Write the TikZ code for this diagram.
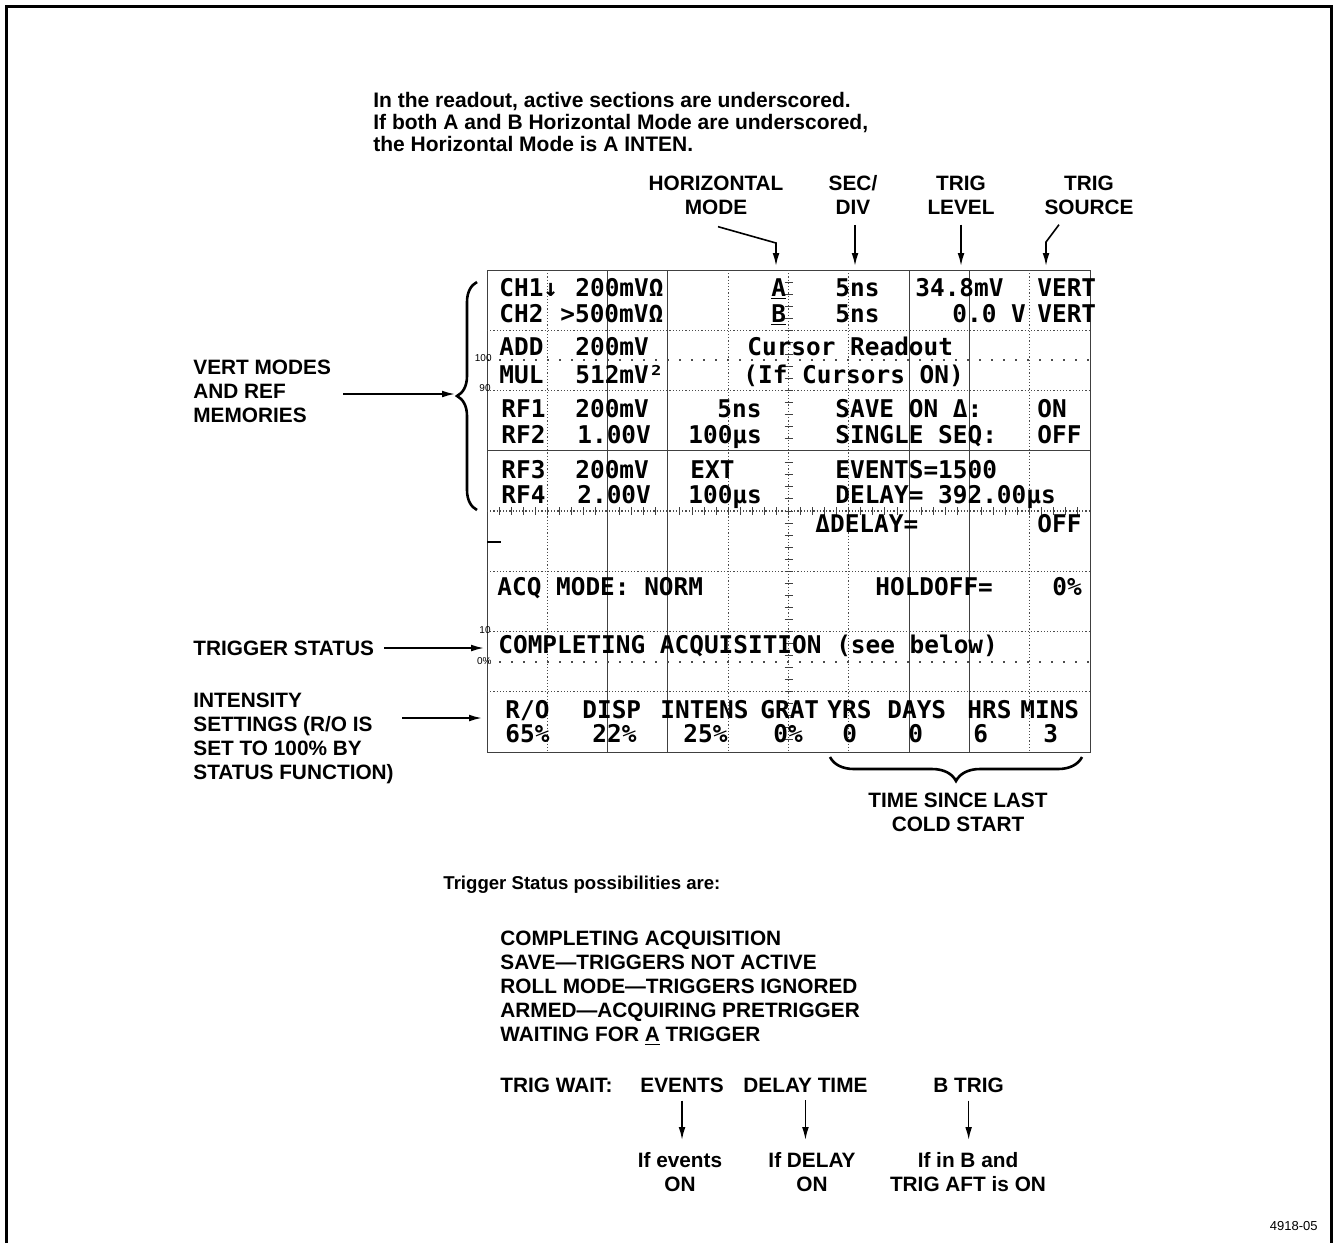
\documentclass[tikz,border=0pt]{standalone}
\usepackage{fontspec}
\setmainfont{Liberation Sans}
\newfontfamily\crtfont{DejaVu Sans Mono}
\usetikzlibrary{arrows.meta,positioning,calc,decorations.pathreplacing}
\tikzset{
  lbl/.style    = {font=\bfseries\fontsize{10.4}{11.9}\selectfont, inner sep=0pt},
  crt/.style    = {font={\crtfont\bfseries\fontsize{12.2}{14}\selectfont}, anchor=base west, inner sep=0pt},
  pct/.style    = {font=\fontsize{5}{6}\selectfont, inner sep=0pt, anchor=east},
  sig/.style    = {-{Latex[length=6.5pt,width=3.4pt]}, line width=0.8pt},
  brc/.style    = {decorate, decoration={brace, amplitude=#1}, line width=1.3pt},
  frame/.style  = {line width=1.5pt},
  gline/.style  = {draw=black!75, line width=0.5pt},
  gdot/.style   = {draw=black!70, line width=0.6pt, densely dotted},
  pctrow/.style = {draw=black!70, line width=0.8pt, dash pattern=on 0.8pt off 5.2pt},
}

\begin{document}
\begin{tikzpicture}[x=0.5pt, y=-0.5pt]
  \useasboundingbox (0,0) rectangle (1336,1243);
  \draw[frame] (6,1243) -- (6,6) -- (1331,6) -- (1331,1243);

  % graticule: 10 x 8 divisions
  \draw[gline] (487,270) rectangle (1090,752);
  \foreach \k in {2,3,7,8} \draw[gline] ({487+60.3*\k},270) -- ++(0,482);
  \foreach \k in {1,4,6,9} \draw[gdot] ({487+60.3*\k},270) -- ++(0,482);
  \foreach \k in {1,2,5,6,7} \draw[gdot] (487,{270+60.25*\k}) -- ++(603,0);
  \draw[gline] (487,450.75) -- ++(603,0);
  \draw[gdot] (788.5,270) -- ++(0,482);
  \draw[gdot] (487,511) -- ++(603,0);
  \foreach \i in {1,...,49} \draw[gline] ({487+12.06*\i},507) -- ++(0,8);
  \foreach \i in {1,...,39} \draw[gline] (784.5,{270+12.05*\i}) -- ++(8,0);
  \draw[pctrow] (487,360) -- ++(603,0);
  \draw[pctrow] (487,662) -- ++(603,0);
  \node[pct] (p100) at (492,358) {100};
  \node[pct] (p90)  at (491,388) {90};
  \node[pct] (p10)  at (491,630) {10};
  \node[pct] (p0)   at (492,661) {0\%};
  \draw[line width=0.8pt] (487,542) -- ++(14,0);

  % readout, two text lines to a division
  \node[crt] (ch1)  at (499,296) {CH1↓};
  \node[crt] (ch1v) at (575,296) {200mVΩ};
  \node[crt] (hma)  at (771,296) {\underline{A}};
  \node[crt] (sda)  at (835,296) {5ns};
  \node[crt] (tla)  at (915,296) {34.8mV};
  \node[crt] (tsa)  at (1037,296) {VERT};
  \node[crt] (ch2)  at (499,322) {CH2};
  \node[crt] (ch2v) at (560,322) {>500mVΩ};
  \node[crt] (hmb)  at (771,322) {\underline{B}};
  \node[crt] (sdb)  at (835,322) {5ns};
  \node[crt] (tlb)  at (952,322) {0.0 V};
  \node[crt] (tsb)  at (1037,322) {VERT};
  \node[crt] (add)  at (499,355) {ADD};
  \node[crt] (addv) at (575,355) {200mV};
  \node[crt] (cur)  at (747,355) {Cursor Readout};
  \node[crt] (mul)  at (499,383) {MUL};
  \node[crt] (mulv) at (575,383) {512mV²};
  \node[crt] (curon) at (743,383) {(If Cursors ON)};
  \node[crt] (rf1)  at (501,417) {RF1};
  \node[crt] (rf1v) at (575,417) {200mV};
  \node[crt] (rf1t) at (717,417) {5ns};
  \node[crt] (sav)  at (835,417) {SAVE ON Δ:};
  \node[crt] (savv) at (1037,417) {ON};
  \node[crt] (rf2)  at (501,443) {RF2};
  \node[crt] (rf2v) at (577,443) {1.00V};
  \node[crt] (rf2t) at (688,443) {100µs};
  \node[crt] (sgl)  at (835,443) {SINGLE SEQ:};
  \node[crt] (sglv) at (1037,443) {OFF};
  \node[crt] (rf3)  at (501,478) {RF3};
  \node[crt] (rf3v) at (575,478) {200mV};
  \node[crt] (rf3t) at (690,478) {EXT};
  \node[crt] (evt)  at (835,478) {EVENTS=1500};
  \node[crt] (rf4)  at (501,503) {RF4};
  \node[crt] (rf4v) at (577,503) {2.00V};
  \node[crt] (rf4t) at (688,503) {100µs};
  \node[crt] (dly)  at (835,503) {DELAY= 392.00µs};
  \node[crt] (ddly) at (815,532) {ΔDELAY=};
  \node[crt] (ddlyv) at (1037,532) {OFF};
  \node[crt] (acq)  at (497,595) {ACQ MODE: NORM};
  \node[crt] (hold) at (875,595) {HOLDOFF=};
  \node[crt] (holdv) at (1052,595) {0\%};
  \node[crt] (stat) at (498,653) {COMPLETING ACQUISITION (see below)};
  \node[crt] (ro)   at (505,718) {R/O};
  \node[crt] (disp) at (582,718) {DISP};
  \node[crt] (ints) at (660,718) {INTENS};
  \node[crt] (grat) at (760,718) {GRAT};
  \node[crt] (yrs)  at (827,718) {YRS};
  \node[crt] (days) at (887,718) {DAYS};
  \node[crt] (hrs)  at (967,718) {HRS};
  \node[crt] (mins) at (1020,718) {MINS};
  \node[crt] (rov)  at (505,742) {65\%};
  \node[crt] (dispv) at (592,742) {22\%};
  \node[crt] (intsv) at (683,742) {25\%};
  \node[crt] (gratv) at (773,742) {0\%};
  \node[crt] (yrsv) at (842,742) {0};
  \node[crt] (daysv) at (908,742) {0};
  \node[crt] (hrsv) at (973,742) {6};
  \node[crt] (minsv) at (1043,742) {3};

  % notes above the screen
  \node[lbl, anchor=north west, align=left, font=\bfseries\fontsize{10.5}{11}\selectfont] (note) at (373,92)
    {In the readout, active sections are underscored.\\
     If both A and B Horizontal Mode are underscored,\\
     the Horizontal Mode is A INTEN.};
  \node[lbl, align=center] (hmode)  at (716,195) {HORIZONTAL\\MODE};
  \node[lbl, align=center] (secdiv) at (853,195) {SEC/\\DIV};
  \node[lbl, align=center] (tlev)   at (961,195) {TRIG\\LEVEL};
  \node[lbl, align=center] (tsrc)   at (1089,195) {TRIG\\SOURCE};
  \coordinate (hmtip) at (776,266);
  \coordinate (sdtip) at (855,266);
  \coordinate (tltip) at (961,266);
  \coordinate (tstip) at (1046,266);
  \draw[sig] ($(hmode.south)+(2,12)$) -- ($(hmtip)+(0,-23)$) -- (hmtip);
  \draw[sig] (sdtip |- secdiv.south) ++(0,10) -- (sdtip);
  \draw[sig] (tltip |- tlev.south) ++(0,10) -- (tltip);
  \draw[sig] ($(tsrc.south)+(-30,10)$) -- ($(tstip)+(0,-24)$) -- (tstip);

  % labels left of the screen
  \node[lbl, anchor=north west, align=left] (vmodes) at (193,360)
    {VERT MODES\\AND REF\\MEMORIES};
  \draw[brc=10pt] (477,510) -- (477,282);
  \coordinate (vmtip) at (455,394);
  \draw[sig] (vmtip -| vmodes.east) ++(12,0) -- (vmtip);
  \node[lbl, anchor=west] (tstat) at (193,648) {TRIGGER STATUS};
  \coordinate (tsttip) at (484,648);
  \draw[sig] (tsttip -| tstat.east) ++(10,0) -- (tsttip);
  \node[lbl, anchor=north west, align=left] (intens) at (193,693)
    {INTENSITY\\SETTINGS (R/O IS\\SET TO 100\% BY\\STATUS FUNCTION)};
  \coordinate (intip) at (482,718);
  \draw[sig] (intip -| intens.east) ++(8,0) -- (intip);

  % below the screen
  \draw[brc=12pt] (1082,757) -- (830,757);
  \node[lbl, anchor=north, align=center] (cold) at (958,793) {TIME SINCE LAST\\COLD START};
  \node[lbl, anchor=base west, font=\bfseries\fontsize{9.3}{11}\selectfont] (poss) at (443,889)
    {Trigger Status possibilities are:};
  \node[lbl, anchor=north west, align=left] (plist) at (500,931)
    {COMPLETING ACQUISITION\\
     SAVE---TRIGGERS NOT ACTIVE\\
     ROLL MODE---TRIGGERS IGNORED\\
     ARMED---ACQUIRING PRETRIGGER\\
     WAITING FOR \underline{A} TRIGGER};
  \node[lbl, anchor=base west] (twait) at (500,1092) {TRIG WAIT:};
  \node[lbl, anchor=base west] (tev)   at (640,1092) {EVENTS};
  \node[lbl, anchor=base west] (tdel)  at (743,1092) {DELAY TIME};
  \node[lbl, anchor=base west] (tbt)   at (933,1092) {B TRIG};
  \node[lbl, anchor=north, align=center] (ifev)  at (680,1152) {If events\\ON};
  \node[lbl, anchor=north, align=center] (ifdel) at (812,1152) {If DELAY\\ON};
  \node[lbl, anchor=north, align=center] (ifb)   at (968,1152) {If in B and\\TRIG AFT is ON};
  \draw[sig] ($(tev.south)+(0,8)$) -- ($(tev.south |- ifev.north)+(0,-12)$);
  \draw[sig] ($(tdel.south)+(0,8)$) -- ($(tdel.south |- ifdel.north)+(0,-12)$);
  \draw[sig] ($(tbt.south)+(0,8)$) -- ($(tbt.south |- ifb.north)+(0,-12)$);
  \node[anchor=east, inner sep=0pt, font=\fontsize{6.5}{8}\selectfont] (fig) at (1318,1226) {4918-05};
\end{tikzpicture}
\end{document}
